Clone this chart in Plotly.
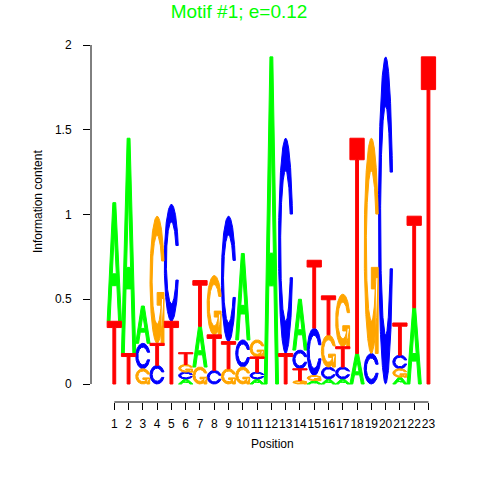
import numpy as np
import plotly.graph_objects as go

# ---- data (information content per letter at each position) ----
positions = list(range(1, 24))
tick_labels = [str(p) for p in positions]
y_tick_vals = [0, 0.5, 1, 1.5, 2]
y_tick_labels = ["0", "0.5", "1", "1.5", "2"]

A_ic = [0.70, 1.27, 0.22, 0.00, 0.00, 0.030, 0.24, 0.00, 0.00, 0.51, 0.030, 1.93,
        0.00, 0.30, 0.02, 0.03, 0.03, 0.18, 0.00, 0.00, 0.04, 0.45, 0.00]
C_ic = [0.00, 0.00, 0.15, 0.11, 0.69, 0.040, 0.00, 0.08, 0.74, 0.16, 0.040, 0.00,
        1.27, 0.11, 0.28, 0.07, 0.07, 0.00, 0.18, 1.93, 0.08, 0.00, 0.00]
G_ic = [0.00, 0.00, 0.09, 0.75, 0.00, 0.045, 0.10, 0.35, 0.09, 0.10, 0.100, 0.00,
        0.00, 0.02, 0.03, 0.19, 0.31, 0.00, 1.27, 0.00, 0.05, 0.00, 0.00]
T_ic = [0.37, 0.18, 0.00, 0.13, 0.37, 0.070, 0.27, 0.21, 0.16, 0.00, 0.090, 0.00,
        0.18, 0.07, 0.40, 0.23, 0.12, 1.27, 0.00, 0.00, 0.19, 0.54, 1.93]

title_text = "Motif #1; e=0.12"
x_title = "Position"
y_title = "Information content"

colors = {"A": "#00FF00", "C": "#0000FF", "G": "#FFA500", "T": "#FF0000"}


# ---- glyph templates in a unit box (seqLogo style) ----
def ring(n=60):
    a1 = np.linspace(0.3 + np.pi / 2, np.pi, n)
    a2 = np.linspace(np.pi, 1.5 * np.pi, n)
    yl1 = 0.5 + 0.5 * np.cos(a1)
    xl = np.concatenate([0.5 + 0.5 * np.sin(a1), 0.5 + 0.5 * np.sin(a2)])
    yl = np.concatenate([yl1, 0.5 + 0.5 * np.cos(a2)])
    x = np.concatenate([xl, xl[::-1]])
    y = np.concatenate([yl, 1 - yl[::-1]])
    h = yl1.max()
    xi1 = 0.5 + 0.35 * np.sin(a1)
    yi1 = 0.5 + 0.35 * np.cos(a1)
    keep = yi1 <= h
    xi1 = xi1[keep]
    yi1 = yi1[keep].copy()
    yi1[0] = h
    xi2 = 0.5 + 0.35 * np.sin(a2)
    yi2 = 0.5 + 0.35 * np.cos(a2)
    xi = np.concatenate([xi1, xi2])
    yi = np.concatenate([yi1, yi2])
    x1 = np.concatenate([xi, xi[::-1]])
    y1 = np.concatenate([yi, 1 - yi[::-1]])
    X = np.concatenate([x, x1[::-1]])
    Y = np.concatenate([y, y1[::-1]])
    r1 = (0.5 + 0.5 * np.sin(a1)).max()
    return list(X), list(Y), r1


rx, ry, r1 = ring()
GLYPHS = {
    "A": [([0, 0.4, 0.6, 1, 0.8, 0.68, 0.5, 0.5, 0.64, 0.5, 0.36, 0.5, 0.5, 0.32, 0.2, 0],
           [0, 1, 1, 0, 0, 0.3, 0.3, 0.4, 0.4, 0.75, 0.4, 0.4, 0.3, 0.3, 0, 0])],
    "C": [(rx + [rx[0]], ry + [ry[0]])],
    "G": [(rx + [rx[0]], ry + [ry[0]]),
          ([r1, 0.5, 0.5, r1 - 0.2, r1 - 0.2, r1, r1],
           [0.4, 0.4, 0.3, 0.3, 0, 0, 0.4])],
    "T": [([0, 1, 1, 0.6, 0.6, 0.4, 0.4, 0, 0],
           [1, 1, 0.9, 0.9, 0, 0, 0.9, 0.9, 1])],
}

ic = {"A": A_ic, "C": C_ic, "G": G_ic, "T": T_ic}
paths = {k: ([], []) for k in "ACGT"}
for i, pos in enumerate(positions):
    stack = sorted([(ic[L][i], L) for L in "ACGT" if ic[L][i] > 0])
    base = 0.0
    for h, L in stack:
        for gx, gy in GLYPHS[L]:
            paths[L][0].extend([pos - 0.5 + v for v in gx] + [None])
            paths[L][1].extend([base + h * v for v in gy] + [None])
        base += h

fig = go.Figure()
for L in "ACGT":
    fig.add_trace(go.Scatter(
        x=paths[L][0], y=paths[L][1], mode="lines", fill="toself",
        fillcolor=colors[L], line=dict(color=colors[L], width=1),
        hoverinfo="skip", showlegend=False, name=L))

# R-style axis lines spanning only the tick range
fig.add_shape(type="line", xref="x", yref="paper", x0=positions[0], x1=positions[-1],
              y0=0, y1=0, line=dict(color="black", width=1))
fig.add_shape(type="line", xref="paper", yref="y", x0=0, x1=0,
              y0=y_tick_vals[0], y1=y_tick_vals[-1], line=dict(color="black", width=1))

fig.update_layout(
    template="none",
    width=480, height=480, autosize=False,
    margin=dict(l=91, r=40, t=30, b=78, pad=0),
    paper_bgcolor="white", plot_bgcolor="white",
    font=dict(family="Liberation Sans, Arial, sans-serif", size=12, color="black"),
    title=dict(text=title_text, x=0.498, xref="container", xanchor="center",
               y=1 - 11.5 / 480, yref="container", yanchor="middle",
               font=dict(size=19, color="#00FF00")),
    xaxis=dict(range=[-0.6317, 23.808], showgrid=False, zeroline=False, showline=False,
               automargin=False, tickangle=0,
               tickmode="array", tickvals=positions, ticktext=tick_labels,
               ticks="outside", ticklen=7, tickwidth=1, tickcolor="black",
               tickfont=dict(size=12), ticklabelstandoff=4, fixedrange=True),
    yaxis=dict(range=[-0.1062, 2.0885], showgrid=False, zeroline=False, showline=False,
               automargin=False, tickangle=0,
               tickmode="array", tickvals=y_tick_vals, ticktext=y_tick_labels,
               ticks="outside", ticklen=7, tickwidth=1, tickcolor="black",
               tickfont=dict(size=12), ticklabelstandoff=9, fixedrange=True),
    annotations=[
        dict(text=x_title, xref="paper", yref="paper", x=(272 - 91) / 349,
             y=-(444 - 402) / 372, xanchor="center", yanchor="middle",
             showarrow=False, font=dict(size=12)),
        dict(text=y_title, xref="paper", yref="paper", x=(38 - 91) / 349,
             y=(402 - 202) / 372, xanchor="center", yanchor="middle",
             textangle=-90, showarrow=False, font=dict(size=12)),
    ],
)

fig.write_html("out.html", config={"displayModeBar": False},
               post_script="document.body.style.margin='0';")
